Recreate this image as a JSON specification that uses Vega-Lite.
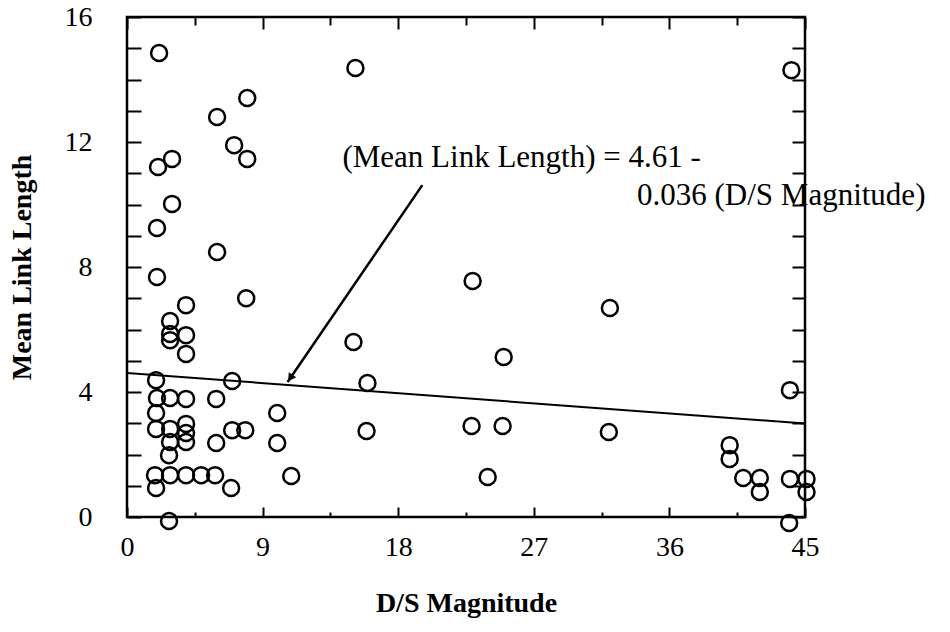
{
  "$schema": "https://vega.github.io/schema/vega-lite/v6.json",
  "autosize": "none",
  "width": 678,
  "height": 500,
  "padding": {"left": 127, "top": 17, "right": 145, "bottom": 115},
  "background": "white",
  "config": {
    "view": {"stroke": "#000", "strokeWidth": 2.5},
    "font": "Liberation Serif",
    "axis": {"domain": false, "grid": false, "labelFont": "Liberation Serif", "labelColor": "#000", "labelFontSize": 28, "titleFont": "Liberation Serif", "titleFontSize": 28, "titleFontWeight": "bold", "titleColor": "#000", "tickColor": "#000", "tickWidth": 2}
  },
  "datasets": {
    "pts": [
      {"ds": 2.13, "len": 14.85}, {"ds": 15.16, "len": 14.37}, {"ds": 44.1, "len": 14.3},
      {"ds": 7.98, "len": 13.41}, {"ds": 5.98, "len": 12.8}, {"ds": 7.11, "len": 11.9},
      {"ds": 7.98, "len": 11.46}, {"ds": 2.99, "len": 11.46}, {"ds": 2.06, "len": 11.2},
      {"ds": 2.99, "len": 10.02}, {"ds": 1.99, "len": 9.25}, {"ds": 5.98, "len": 8.48},
      {"ds": 1.99, "len": 7.68}, {"ds": 7.91, "len": 7.0}, {"ds": 22.94, "len": 7.55},
      {"ds": 32.05, "len": 6.69}, {"ds": 3.92, "len": 6.78}, {"ds": 2.86, "len": 6.27},
      {"ds": 2.86, "len": 5.86}, {"ds": 2.86, "len": 5.66}, {"ds": 3.92, "len": 5.82},
      {"ds": 3.92, "len": 5.22}, {"ds": 15.03, "len": 5.6}, {"ds": 25.0, "len": 5.12},
      {"ds": 1.93, "len": 4.38}, {"ds": 6.98, "len": 4.35}, {"ds": 15.96, "len": 4.29},
      {"ds": 44.0, "len": 4.06}, {"ds": 1.99, "len": 3.81}, {"ds": 2.86, "len": 3.81},
      {"ds": 3.92, "len": 3.78}, {"ds": 5.92, "len": 3.78}, {"ds": 1.93, "len": 3.33},
      {"ds": 9.97, "len": 3.33}, {"ds": 1.93, "len": 2.82}, {"ds": 2.86, "len": 2.82},
      {"ds": 3.92, "len": 2.98}, {"ds": 3.92, "len": 2.69}, {"ds": 6.98, "len": 2.78},
      {"ds": 7.85, "len": 2.78}, {"ds": 15.9, "len": 2.75}, {"ds": 22.87, "len": 2.91},
      {"ds": 24.93, "len": 2.91}, {"ds": 31.98, "len": 2.72}, {"ds": 2.86, "len": 2.4},
      {"ds": 3.92, "len": 2.4}, {"ds": 5.92, "len": 2.37}, {"ds": 9.97, "len": 2.37},
      {"ds": 2.79, "len": 1.98}, {"ds": 1.86, "len": 1.34}, {"ds": 2.86, "len": 1.34},
      {"ds": 3.92, "len": 1.34}, {"ds": 4.92, "len": 1.34}, {"ds": 5.85, "len": 1.34},
      {"ds": 10.9, "len": 1.31}, {"ds": 23.94, "len": 1.28}, {"ds": 1.93, "len": 0.93},
      {"ds": 6.91, "len": 0.93}, {"ds": 2.79, "len": -0.13}, {"ds": 40.0, "len": 2.3},
      {"ds": 40.0, "len": 1.86}, {"ds": 40.9, "len": 1.25}, {"ds": 42.0, "len": 1.25},
      {"ds": 42.0, "len": 0.8}, {"ds": 44.0, "len": 1.22}, {"ds": 45.1, "len": 1.22},
      {"ds": 45.1, "len": 0.8}, {"ds": 43.95, "len": -0.19}
    ],
    "fit": [{"ds": 0, "len": 4.61}, {"ds": 45, "len": 2.99}],
    "arrow": [{"ds": 19.6, "len": 10.62}, {"ds": 10.66, "len": 4.32}],
    "head": [{"ds": 10.84, "len": 4.45}],
    "notes": [
      {"ds": 14.3, "len": 11.2, "label": "(Mean Link Length) = 4.61 -"},
      {"ds": 33.85, "len": 9.98, "label": "0.036 (D/S Magnitude)"}
    ]
  },
  "resolve": {"axis": {"x": "independent", "y": "independent"}},
  "layer": [
    {
      "data": {"name": "pts"},
      "mark": {"type": "point", "shape": "circle", "filled": false, "stroke": "#000", "strokeWidth": 2.5, "size": 256, "opacity": 1, "clip": false},
      "encoding": {
        "x": {"field": "ds", "type": "quantitative", "scale": {"domain": [0, 45], "nice": false, "zero": false},
          "axis": {"orient": "bottom", "title": "D/S Magnitude", "values": [0, 4.5, 9, 13.5, 18, 22.5, 27, 31.5, 36, 40.5, 45],
            "labelExpr": "datum.value % 9 === 0 ? datum.label : ''", "tickSize": {"condition": {"test": "datum.value % 9 === 0", "value": -10}, "value": -5},
            "labelPadding": 26, "labelFlush": false, "titlePadding": 28}},
        "y": {"field": "len", "type": "quantitative", "scale": {"domain": [0, 16], "nice": false, "zero": false},
          "axis": {"orient": "left", "title": "Mean Link Length", "values": [0,1,2,3,4,5,6,7,8,9,10,11,12,13,14,15,16],
            "labelExpr": "datum.value % 4 === 0 ? datum.label : ''", "tickSize": -14, "labelPadding": 49, "titlePadding": 28}}
      }
    },
    {
      "data": {"name": "fit"},
      "mark": {"type": "line", "stroke": "#000", "strokeWidth": 2},
      "encoding": {
        "x": {"field": "ds", "type": "quantitative",
          "axis": {"orient": "top", "title": null, "labels": false, "values": [0, 4.5, 9, 13.5, 18, 22.5, 27, 31.5, 36, 40.5, 45],
            "tickSize": {"condition": {"test": "datum.value % 9 === 0", "value": -12}, "value": -8}}},
        "y": {"field": "len", "type": "quantitative",
          "axis": {"orient": "right", "title": null, "labels": false, "values": [0,1,2,3,4,5,6,7,8,9,10,11,12,13,14,15,16], "tickSize": -13}}
      }
    },
    {
      "data": {"name": "arrow"},
      "mark": {"type": "line", "stroke": "#000", "strokeWidth": 2.5},
      "encoding": {
        "x": {"field": "ds", "type": "quantitative", "axis": null},
        "y": {"field": "len", "type": "quantitative", "axis": null}
      }
    },
    {
      "data": {"name": "head"},
      "mark": {"type": "point", "shape": "triangle-up", "filled": true, "fill": "#000", "size": 80, "angle": 214, "opacity": 1},
      "encoding": {
        "x": {"field": "ds", "type": "quantitative", "axis": null},
        "y": {"field": "len", "type": "quantitative", "axis": null}
      }
    },
    {
      "data": {"name": "notes"},
      "mark": {"type": "text", "align": "left", "baseline": "alphabetic", "font": "Liberation Serif", "fontSize": 31, "color": "#000", "clip": false},
      "encoding": {
        "x": {"field": "ds", "type": "quantitative", "axis": null},
        "y": {"field": "len", "type": "quantitative", "axis": null},
        "text": {"field": "label"}
      }
    }
  ]
}
